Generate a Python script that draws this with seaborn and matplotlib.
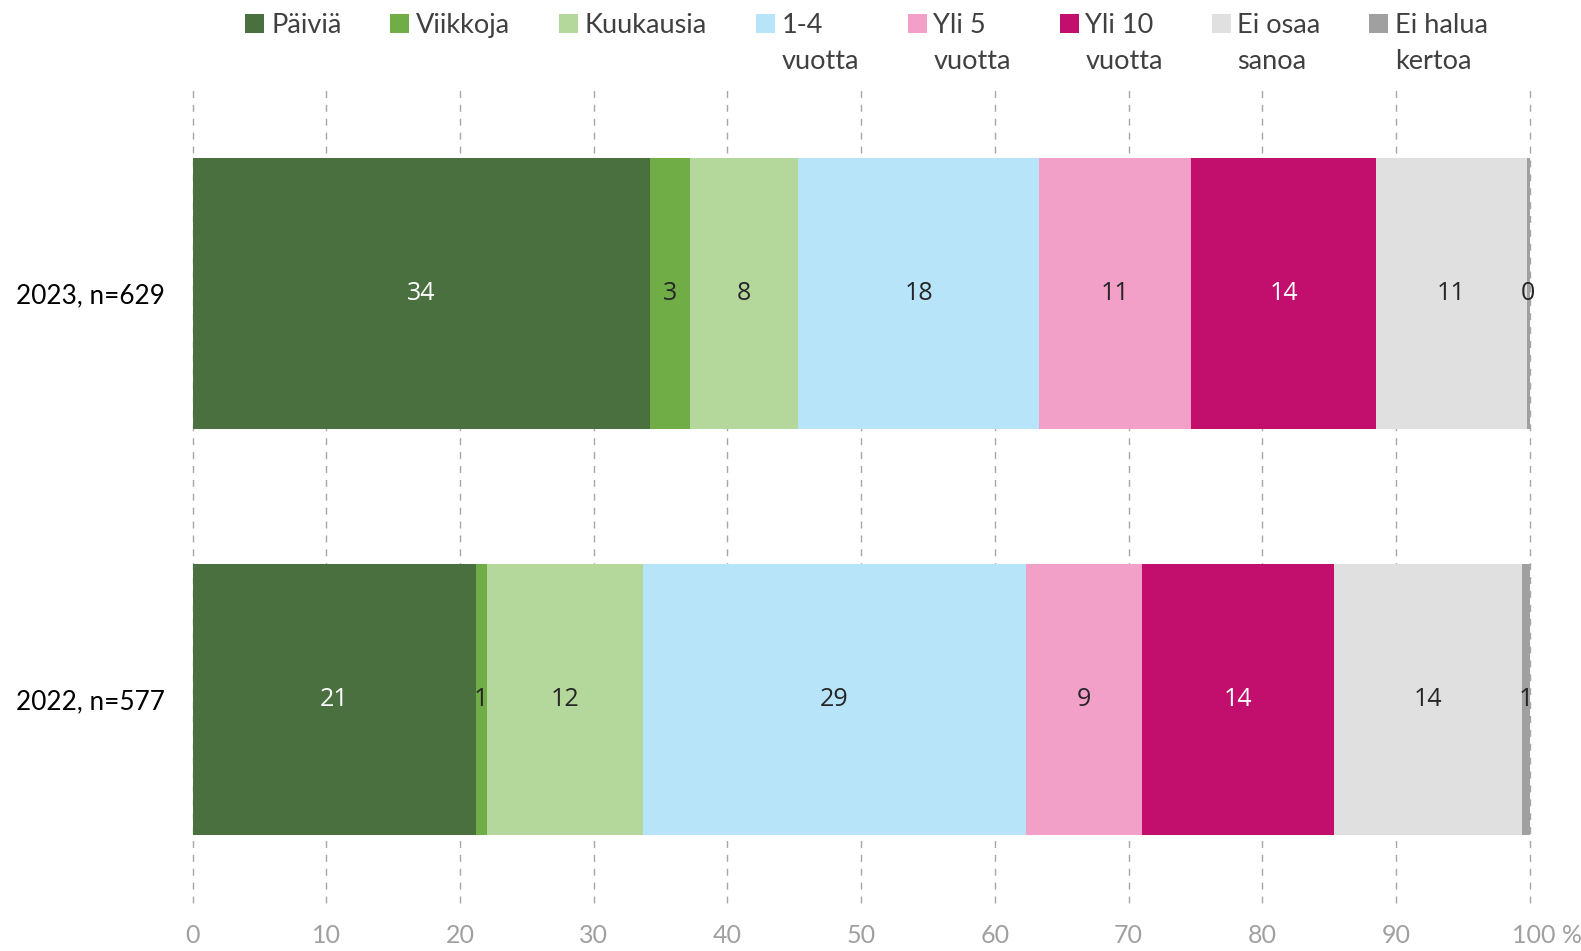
import numpy as np
import pandas as pd
import matplotlib
matplotlib.use("Agg")
import matplotlib.pyplot as plt
import matplotlib.transforms as mtransforms
from matplotlib.patches import Patch, Rectangle
from matplotlib.legend_handler import HandlerPatch
import seaborn as sns

# ---- data ----
groups = ["2023, n=629", "2022, n=577"]
categories = ["Päiviä", "Viikkoja", "Kuukausia", "1-4\nvuotta", "Yli 5\nvuotta",
              "Yli 10\nvuotta", "Ei osaa\nsanoa", "Ei halua\nkertoa"]
values_2023 = [34.2, 3.0, 8.1, 18.0, 11.4, 13.8, 11.3, 0.2]
values_2022 = [21.2, 0.8, 11.7, 28.6, 8.7, 14.4, 14.0, 0.6]
colors = ["#4a7040", "#70ad47", "#b4d89c", "#b8e4fa", "#f3a0c8",
          "#c20f6e", "#e0e0e0", "#a0a0a0"]
label_colors = ["white", "#262626", "#262626", "#262626", "#262626",
                "white", "#262626", "#262626"]
xticks = [0, 10, 20, 30, 40, 50, 60, 70, 80, 90, 100]
xticklabels = ["0", "10", "20", "30", "40", "50", "60", "70", "80", "90", "100 %"]

sns.set_theme(style="white")
plt.rcParams["font.family"] = ["Lato", "DejaVu Sans"]

fig = plt.figure(figsize=(15.81, 9.51), dpi=100)
ax = fig.add_axes([0.1218, 0.0505, 0.8457, 0.8549])

vals = np.array([values_2023, values_2022])
cum = np.cumsum(vals, axis=1)

# draw cumulative bars from largest to smallest so they stack visually
for i in reversed(range(len(categories))):
    df = pd.DataFrame({"group": groups, "value": cum[:, i]})
    sns.barplot(data=df, x="value", y="group", orient="h", color=colors[i],
                width=0.667, saturation=1, ax=ax, order=groups, linewidth=0)

# data labels
for g in range(len(groups)):
    left = 0
    for i in range(len(categories)):
        w = vals[g, i]
        ax.text(left + w / 2, g, f"{int(round(w))}", ha="center", va="center",
                fontsize=18, color=label_colors[i], family=["Open Sans", "DejaVu Sans"])
        left += w

ax.set_xlim(0, 100)
ax.set_ylim(1.5, -0.5)
ax.set_xlabel("")
ax.set_ylabel("")
ax.set_xticks(xticks)
ax.set_xticklabels(xticklabels)
ax.grid(axis="x", color="#a6a6a6", linestyle=(0, (5, 5)), linewidth=1.0)
ax.set_axisbelow(True)
for gl in ax.get_xgridlines():
    gl.set_clip_on(False)
for s in ax.spines.values():
    s.set_visible(False)
ax.tick_params(axis="x", length=0, pad=15, labelsize=18, labelcolor="#a0a0a0")
ax.tick_params(axis="y", length=0, pad=20, labelsize=18.8, labelcolor="#000000")

# shift "100 %" so that "100" sits over the tick
lab = ax.get_xticklabels()[-1]
lab.set_transform(lab.get_transform() + mtransforms.ScaledTranslation(17/100, 0, fig.dpi_scale_trans))

# legend (every entry laid out on two lines so all rows align at the top)
FS = 19.5
LS = 1.53
handles = [Patch(facecolor=c, edgecolor="none") for c in colors]
leg_labels = [c if "\n" in c else c + "\n " for c in categories]


def patch_func(legend, orig_handle, xdescent, ydescent, width, height, fontsize):
    shift = 0.5 * LS * 0.72 * fontsize + 4.0
    return Rectangle((-xdescent, -ydescent + shift), width, height)


hmap = {h: HandlerPatch(patch_func=patch_func) for h in handles}
leg = fig.legend(handles, leg_labels, loc="upper left", bbox_to_anchor=(0.145, 1.003),
                 ncol=8, frameon=False, fontsize=FS, handlelength=0.7,
                 handleheight=0.7, handletextpad=0.25, columnspacing=1.8,
                 borderaxespad=0.2, handler_map=hmap)
for t in leg.get_texts():
    t.set_linespacing(LS)
    t.set_color("#404040")

fig.savefig("out.png", dpi=100)
